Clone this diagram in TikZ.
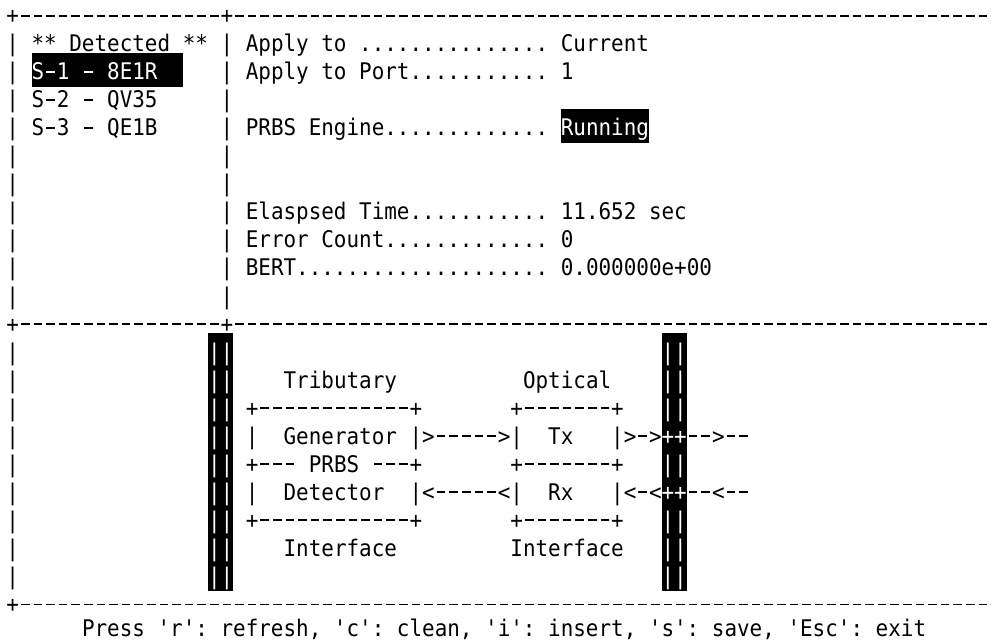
\documentclass[tikz,border=0pt]{standalone}
\usepackage{fontspec}
\usepackage{graphicx}
\setmonofont{DejaVu Sans Mono}
\newcommand\tcx[1]{(6.4+12.6*(#1))}
\newcommand\tby[1]{(23.7+28.03*(#1))}
\newcommand\tdy[1]{(15+28.03*(#1))}
% one terminal dash: a short bar centred in a 13.787pt cell (scaled to 12.6)
\newcommand\dsh{\hbox to 13.787pt{\hss\vrule width 9.4pt height 8.8pt depth -7.0pt\hss}}
\newcommand\dashten{\dsh\dsh\dsh\dsh\dsh\dsh\dsh\dsh\dsh\dsh}
\newcommand\termfont{\ttfamily\fontsize{22.9pt}{28pt}\selectfont\spaceskip=13.787pt\relax}
\tikzset{
  tt/.style={anchor=base west, inner sep=0pt, outer sep=0pt},
  inv/.style={tt, text=white},
  hl/.style={fill=black}
}
\newcommand\termtext[5][]{\node[tt,#1] (#2) at ({\tcx{#3}},{\tby{#4}}) {\termfont\scalebox{0.9139}[1]{#5}};}
\begin{document}
\begin{tikzpicture}[x=1pt,y=-1pt]
\useasboundingbox (0,0) rectangle (992,642);
\fill[white] (0,0) rectangle (992,642);
% highlights
\fill[hl] ({\tcx{2}},{\tdy{2}-18}) rectangle ({\tcx{14}},{\tdy{2}+15.7});
\fill[hl] ({\tcx{44}},{\tdy{4}-18}) rectangle ({\tcx{51}},{\tdy{4}+15.7});
\fill[hl] ({\tcx{16}},{\tdy{12}-18}) rectangle ({\tcx{18}},{\tdy{20}+15.7});
\fill[hl] ({\tcx{52}},{\tdy{12}-18}) rectangle ({\tcx{54}},{\tdy{20}+15.7});
% borders
\termtext{topline}{0}{0}{+\dashten\dsh\dsh\dsh\dsh\dsh\dsh+\dashten\dashten\dashten\dashten\dashten\dashten}
\termtext{midline}{0}{11}{+\dashten\dsh\dsh\dsh\dsh\dsh\dsh+\dashten\dashten\dashten\dashten\dashten\dashten}
\termtext{botline}{0}{21}{+\dashten\dashten\dashten\dashten\dashten\dashten\dashten\dsh\dsh\dsh\dsh\dsh\dsh\dsh}
\foreach \r in {1,...,10} {
  \termtext{lb\r}{0}{\r}{|}
  \termtext{md\r}{17}{\r}{|}
}
\foreach \r in {12,...,20} {
  \termtext{lc\r}{0}{\r}{|}
  \termtext[inv]{barA\r}{16}{\r}{||}
}
\foreach \r in {12,13,14,16,18,19,20} {
  \termtext[inv]{barB\r}{52}{\r}{||}
}
\termtext[inv]{barB15}{52}{15}{++}
\termtext[inv]{barB17}{52}{17}{++}
% upper left list
\termtext{det}{2}{1}{** Detected **}
\termtext[inv]{s1}{2}{2}{S\dsh1\ \dsh\ 8E1R}
\termtext{s2}{2}{3}{S\dsh2\ \dsh\ QV35}
\termtext{s3}{2}{4}{S\dsh3\ \dsh\ QE1B}
% upper right fields
\termtext{f1}{19}{1}{Apply to ...............}
\termtext{v1}{44}{1}{Current}
\termtext{f2}{19}{2}{Apply to Port...........}
\termtext{v2}{44}{2}{1}
\termtext{f4}{19}{4}{PRBS Engine.............}
\termtext[inv]{v4}{44}{4}{Running}
\termtext{f7}{19}{7}{Elaspsed Time...........}
\termtext{v7}{44}{7}{11.652 sec}
\termtext{f8}{19}{8}{Error Count.............}
\termtext{v8}{44}{8}{0}
\termtext{f9}{19}{9}{BERT....................}
\termtext{v9}{44}{9}{0.000000e+00}
% lower diagram
\termtext{trib}{22}{13}{Tributary}
\termtext{opt}{41}{13}{Optical}
\termtext{tbtop}{19}{14}{+\dsh\dsh\dsh\dsh\dsh\dsh\dsh\dsh\dsh\dsh\dsh\dsh+}
\termtext{obtop}{40}{14}{+\dsh\dsh\dsh\dsh\dsh\dsh\dsh+}
\termtext{gl}{19}{15}{|}
\termtext{gen}{22}{15}{Generator}
\termtext{garr}{32}{15}{|>\dsh\dsh\dsh\dsh\dsh>|}
\termtext{tx}{43}{15}{Tx}
\termtext{txo}{48}{15}{|>\dsh>}
\termtext{txout}{54}{15}{\dsh\dsh>\dsh\dsh}
\termtext{prbs}{19}{16}{+\dsh\dsh\dsh\ PRBS\ \dsh\dsh\dsh+}
\termtext{obmid}{40}{16}{+\dsh\dsh\dsh\dsh\dsh\dsh\dsh+}
\termtext{dl}{19}{17}{|}
\termtext{dett}{22}{17}{Detector}
\termtext{darr}{32}{17}{|<\dsh\dsh\dsh\dsh\dsh<|}
\termtext{rx}{43}{17}{Rx}
\termtext{rxi}{48}{17}{|<\dsh<}
\termtext{rxin}{54}{17}{\dsh\dsh<\dsh\dsh}
\termtext{tbbot}{19}{18}{+\dsh\dsh\dsh\dsh\dsh\dsh\dsh\dsh\dsh\dsh\dsh\dsh+}
\termtext{obbot}{40}{18}{+\dsh\dsh\dsh\dsh\dsh\dsh\dsh+}
\termtext{ifa}{22}{19}{Interface}
\termtext{ifb}{40}{19}{Interface}
% footer (sits slightly above the terminal grid row)
\node[tt] (press) at ({\tcx{6}},{\tby{22}-3.5}) {\termfont\scalebox{0.9139}[1]{Press 'r': refresh, 'c': clean, 'i': insert, 's': save, 'Esc': exit}};
\end{tikzpicture}
\end{document}
